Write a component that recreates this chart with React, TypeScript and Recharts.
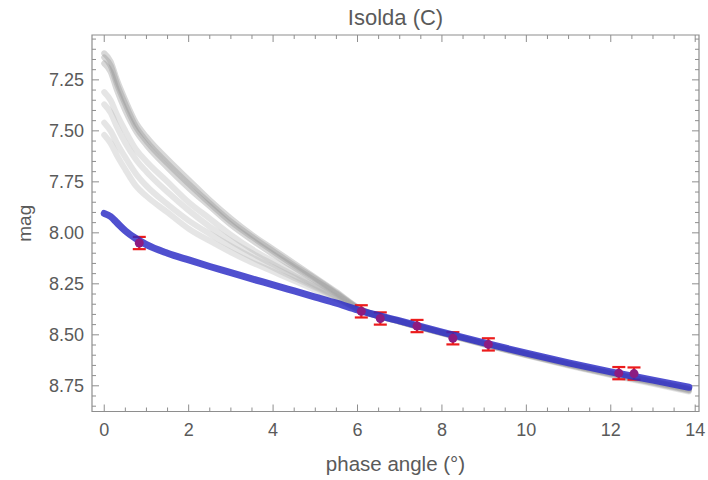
import React from 'react';
import { ComposedChart, Line, Scatter, ErrorBar, XAxis, YAxis, ReferenceArea } from 'recharts';

// ---- data ----
const phases = [0, 0.15, 0.3, 0.5, 0.75, 1, 1.5, 2, 2.5, 3, 3.5, 4, 4.5, 5, 5.5, 6, 7, 8, 9, 10, 11, 12, 13, 13.85];
const blueFit = [7.905, 7.92, 7.95, 7.99, 8.028, 8.058, 8.1, 8.133, 8.165, 8.195, 8.226, 8.255, 8.285, 8.315, 8.345, 8.378, 8.432, 8.487, 8.54, 8.59, 8.638, 8.682, 8.722, 8.757];
const grayA = [7.12, 7.16, 7.25, 7.35, 7.46, 7.53, 7.64, 7.74, 7.84, 7.93, 8.01, 8.08, 8.15, 8.22, 8.29, 8.365, 8.433, 8.489, 8.543, 8.594, 8.643, 8.688, 8.729, 8.765];
const grayB = [7.14, 7.18, 7.27, 7.37, 7.48, 7.55, 7.66, 7.76, 7.855, 7.945, 8.02, 8.09, 8.16, 8.225, 8.295, 8.367, 8.434, 8.49, 8.544, 8.596, 8.645, 8.69, 8.731, 8.768];
const grayC = [7.17, 7.21, 7.3, 7.4, 7.5, 7.57, 7.68, 7.78, 7.87, 7.96, 8.035, 8.105, 8.17, 8.235, 8.3, 8.37, 8.435, 8.491, 8.546, 8.598, 8.647, 8.693, 8.734, 8.772];
const grayD = [7.31, 7.35, 7.42, 7.5, 7.59, 7.65, 7.75, 7.85, 7.93, 8.01, 8.08, 8.14, 8.195, 8.255, 8.31, 8.372, 8.434, 8.489, 8.543, 8.594, 8.642, 8.687, 8.728, 8.764];
const grayE = [7.37, 7.41, 7.48, 7.56, 7.64, 7.7, 7.8, 7.89, 7.97, 8.04, 8.1, 8.155, 8.21, 8.262, 8.315, 8.372, 8.435, 8.49, 8.545, 8.597, 8.645, 8.69, 8.732, 8.769];
const grayF = [7.46, 7.5, 7.56, 7.63, 7.71, 7.77, 7.86, 7.94, 8.005, 8.065, 8.12, 8.17, 8.22, 8.268, 8.318, 8.373, 8.436, 8.492, 8.547, 8.6, 8.649, 8.695, 8.737, 8.775];
const grayG = [7.52, 7.56, 7.62, 7.69, 7.77, 7.82, 7.9, 7.98, 8.04, 8.095, 8.145, 8.19, 8.235, 8.28, 8.325, 8.374, 8.436, 8.493, 8.548, 8.601, 8.651, 8.697, 8.74, 8.778];

const obsPhase = [0.83, 6.09, 6.54, 7.41, 8.26, 9.1, 12.19, 12.55];
const obsMag = [8.05, 8.385, 8.42, 8.457, 8.517, 8.547, 8.688, 8.69];
const obsErr = [0.03, 0.03, 0.03, 0.03, 0.03, 0.03, 0.03, 0.03];

const xMajorTicks = [0, 2, 4, 6, 8, 10, 12, 14];
const xMinorTicks = [0.5, 1, 1.5, 2.5, 3, 3.5, 4.5, 5, 5.5, 6.5, 7, 7.5, 8.5, 9, 9.5, 10.5, 11, 11.5, 12.5, 13, 13.5];
const yMajorTicks = [7.25, 7.5, 7.75, 8.0, 8.25, 8.5, 8.75];
const yMinorTicks = [7.05, 7.1, 7.15, 7.2, 7.3, 7.35, 7.4, 7.45, 7.55, 7.6, 7.65, 7.7, 7.8, 7.85, 7.9, 7.95, 8.05, 8.1, 8.15, 8.2, 8.3, 8.35, 8.4, 8.45, 8.55, 8.6, 8.65, 8.7, 8.8, 8.85];

const X_DOMAIN = [-0.29, 14.09];
const Y_DOMAIN = [7.03, 8.876];

const grayKeys = ['gA', 'gB', 'gC', 'gD', 'gE', 'gF', 'gG'];
const grayArrays = [grayA, grayB, grayC, grayD, grayE, grayF, grayG];
const grayStyles = [
  { color: '#8f8f8f', op: 0.35 },
  { color: '#8f8f8f', op: 0.35 },
  { color: '#8f8f8f', op: 0.35 },
  { color: '#aaaaaa', op: 0.3 },
  { color: '#aaaaaa', op: 0.3 },
  { color: '#aaaaaa', op: 0.3 },
  { color: '#aaaaaa', op: 0.3 },
];

const curveData = phases.map((p, i) => {
  const row: any = { phase: p, blue: blueFit[i] };
  grayKeys.forEach((k, j) => {
    row[k] = grayArrays[j][i];
  });
  return row;
});
const obsData = obsPhase.map((p, i) => ({ phase: p, mag: obsMag[i], err: obsErr[i] }));

// ---- layout ----
const W = 708;
const H = 480;
const M_TOP = 35;
const M_RIGHT = 9;
const Y_AXIS_W = 92;
const X_AXIS_H = 68.5;
const PLOT_LEFT = Y_AXIS_W;
const PLOT_RIGHT = W - M_RIGHT;
const PLOT_TOP = M_TOP;
const PLOT_BOTTOM = H - X_AXIS_H;
const FONT = '"Liberation Sans", Arial, Helvetica, sans-serif';
const TEXT_COLOR = '#5a5a5a';
const FRAME_COLOR = '#8e8e8e';

const isMajor = (v: number, list: number[]) => list.some((m) => Math.abs(m - v) < 1e-6);

const XTick = (props: any) => {
  const { x, payload } = props;
  const major = isMajor(payload.value, xMajorTicks);
  const len = major ? 7 : 4;
  return (
    <g>
      <line x1={x} x2={x} y1={PLOT_BOTTOM} y2={PLOT_BOTTOM - len} stroke={FRAME_COLOR} strokeWidth={1} />
      <line x1={x} x2={x} y1={PLOT_TOP} y2={PLOT_TOP + len} stroke={FRAME_COLOR} strokeWidth={1} />
      {major && (
        <text x={x} y={PLOT_BOTTOM + 24} textAnchor="middle" fontFamily={FONT} fontSize={18} fill={TEXT_COLOR}>
          {String(payload.value)}
        </text>
      )}
    </g>
  );
};

const YTick = (props: any) => {
  const { y, payload } = props;
  const major = isMajor(payload.value, yMajorTicks);
  const len = major ? 7 : 4;
  return (
    <g>
      <line x1={PLOT_LEFT} x2={PLOT_LEFT + len} y1={y} y2={y} stroke={FRAME_COLOR} strokeWidth={1} />
      <line x1={PLOT_RIGHT} x2={PLOT_RIGHT - len} y1={y} y2={y} stroke={FRAME_COLOR} strokeWidth={1} />
      {major && (
        <text x={PLOT_LEFT - 8} y={y} dy="0.36em" textAnchor="end" fontFamily={FONT} fontSize={18} fill={TEXT_COLOR}>
          {Number(payload.value).toFixed(2)}
        </text>
      )}
    </g>
  );
};

const ObsDot = (props: any) => {
  const { cx, cy } = props;
  if (cx == null || cy == null) return null;
  return <circle cx={cx} cy={cy} r={4.5} fill="#8c1c82" />;
};

export default function App() {
  return (
    <div style={{ position: 'fixed', left: 0, top: 0, width: W, height: H, background: '#ffffff' }}>
      <ComposedChart
        width={W}
        height={H}
        data={curveData}
        margin={{ top: M_TOP, right: M_RIGHT, bottom: 0, left: 0 }}
      >
        <XAxis
          type="number"
          dataKey="phase"
          domain={X_DOMAIN}
          ticks={[...xMajorTicks, ...xMinorTicks].sort((a, b) => a - b)}
          interval={0}
          allowDataOverflow
          tick={<XTick />}
          tickLine={false}
          axisLine={false}
          height={X_AXIS_H}
          label={{
            value: 'phase angle (°)',
            position: 'insideBottom',
            offset: 9,
            fontFamily: FONT,
            fontSize: 20.5,
            fill: TEXT_COLOR,
          }}
        />
        <YAxis
          type="number"
          domain={Y_DOMAIN}
          reversed
          allowDataOverflow
          ticks={[...yMajorTicks, ...yMinorTicks].sort((a, b) => a - b)}
          interval={0}
          tick={<YTick />}
          tickLine={false}
          axisLine={false}
          width={Y_AXIS_W}
          label={{
            value: 'mag',
            content: (p: any) => {
              const vb = p.viewBox || {};
              const cy = (vb.y || PLOT_TOP) + (vb.height || PLOT_BOTTOM - PLOT_TOP) / 2;
              return (
                <text
                  x={24}
                  y={cy}
                  transform={`rotate(-90 24 ${cy})`}
                  textAnchor="middle"
                  dominantBaseline="central"
                  fontFamily={FONT}
                  fontSize={19}
                  fill={TEXT_COLOR}
                >
                  mag
                </text>
              );
            },
          }}
        />
        <ReferenceArea
          x1={X_DOMAIN[0]}
          x2={X_DOMAIN[1]}
          y1={Y_DOMAIN[0]}
          y2={Y_DOMAIN[1]}
          fill="none"
          stroke={FRAME_COLOR}
          strokeWidth={1.2}
          ifOverflow="visible"
        />
        {grayKeys.map((k, j) => (
          <Line
            key={k}
            type="monotone"
            dataKey={k}
            stroke={grayStyles[j].color}
            strokeOpacity={grayStyles[j].op}
            strokeWidth={6}
            strokeLinecap="round"
            dot={false}
            activeDot={false}
            isAnimationActive={false}
          />
        ))}
        <Scatter data={obsData} dataKey="mag" shape={<ObsDot />} isAnimationActive={false}>
          <ErrorBar dataKey="err" direction="y" width={6.5} stroke="#ec1c1c" strokeWidth={2.2} isAnimationActive={false} />
        </Scatter>
        <Line
          type="monotone"
          dataKey="blue"
          stroke="#2a2ac4"
          strokeOpacity={0.82}
          strokeWidth={7}
          strokeLinecap="round"
          dot={false}
          activeDot={false}
          isAnimationActive={false}
        />
      </ComposedChart>
      <svg
        width={W}
        height={H}
        style={{ position: 'absolute', left: 0, top: 0, pointerEvents: 'none' }}
      >
        <text
          x={(PLOT_LEFT + PLOT_RIGHT) / 2}
          y={25}
          textAnchor="middle"
          fontFamily={FONT}
          fontSize={22}
          fill={TEXT_COLOR}
        >
          Isolda (C)
        </text>
      </svg>
    </div>
  );
}
